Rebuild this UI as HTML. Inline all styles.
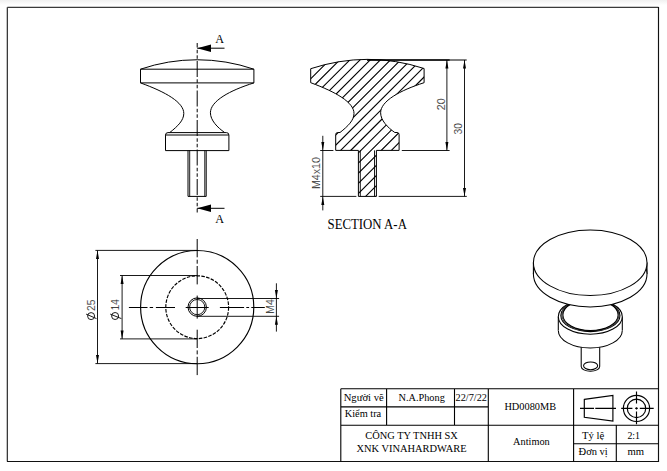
<!DOCTYPE html>
<html><head><meta charset="utf-8">
<style>
html,body{margin:0;padding:0;background:#fff;}
body{width:667px;height:471px;overflow:hidden;}
svg{display:block;}
text{font-family:"Liberation Serif",serif;fill:#000;}
.sans{font-family:"Liberation Sans",sans-serif;fill:#111;stroke:#fff;stroke-width:0.15px;}
</style></head><body>
<svg width="667" height="471" viewBox="0 0 667 471">
<defs>
<linearGradient id="topg" x1="0" y1="0" x2="0" y2="1">
<stop offset="0" stop-color="#f0f0f0"/><stop offset="1" stop-color="#fff"/>
</linearGradient>

<clipPath id="secclip"><path d="M310.70 68.7A183 183 0 0 1 424.10 68.5V82.7C399.84 90.46 380.62 101.1 380.62 112.76C380.62 120.28 387.57 127.41 394.80 132.5H397.00Q399.10 132.5 399.10 134.6V150.4H376.40V196.4H358.40V150.4H335.70V134.6Q335.70 132.5 337.80 132.5H340.00C348.02 126.17 353.99 120.37 353.99 113.44C353.99 102.41 336.22 92.13 310.70 82.7Z"/></clipPath>
</defs>
<rect x="0" y="0" width="667" height="5" fill="url(#topg)"/>
<path d="M7.35 7.35H658.5 M7.35 7.35V461.5" fill="none" stroke="#3a3a3a" stroke-width="1.3"/>
<path d="M658.5 7V462.1 M7 461.5H659.1" fill="none" stroke="#111" stroke-width="1.15"/>
<g stroke="#000" stroke-width="1.1" fill="none"><path d="M340.8 388.8H658.5 M340.8 388.8V461.5 M340.8 406.9H488.3 M340.8 425.2H658.5 M573.6 443.7H658.5 M386.6 388.8V425.2 M454.5 388.8V425.2 M488.3 388.8V461.5 M573.6 388.8V461.5 M616.3 425.2V461.5"/></g>
<g font-size="10">
<text x="343.7" y="400.5" textLength="40" lengthAdjust="spacingAndGlyphs">Người vẽ</text>
<text x="344.7" y="416.6" textLength="36.5" lengthAdjust="spacingAndGlyphs">Kiểm tra</text>
<text x="398.5" y="400.5" textLength="46.3" lengthAdjust="spacingAndGlyphs">N.A.Phong</text>
<text x="455.6" y="400.5" textLength="31.4" lengthAdjust="spacingAndGlyphs">22/7/22</text>
<text x="504.4" y="410" textLength="51.7" lengthAdjust="spacingAndGlyphs">HD0080MB</text>
<text x="365.3" y="439.2" textLength="92.6" lengthAdjust="spacingAndGlyphs">CÔNG TY TNHH SX</text>
<text x="356.4" y="452.1" textLength="110.3" lengthAdjust="spacingAndGlyphs">XNK VINAHARDWARE</text>
<text x="513.1" y="444.8" textLength="36.6" lengthAdjust="spacingAndGlyphs">Antimon</text>
<text x="581.9" y="438.8" textLength="22.3" lengthAdjust="spacingAndGlyphs">Tỷ lệ</text>
<text x="627.4" y="438.8" textLength="12.6" lengthAdjust="spacingAndGlyphs">2:1</text>
<text x="578.6" y="455" textLength="29.2" lengthAdjust="spacingAndGlyphs">Đơn vị</text>
<text x="627.4" y="455" textLength="16.6" lengthAdjust="spacingAndGlyphs">mm</text>
</g>
<g stroke="#000" stroke-width="1.15" fill="none">
<path d="M584.3 399.4L612.9 395.4V421.1L584.3 417.2Z"/>
<path d="M580 408.4H594 M595.3 408.4H616"/>
<circle cx="636.5" cy="408.4" r="13.1"/>
<circle cx="636.5" cy="408.4" r="9.2"/>
<path d="M621.2 408.4H632.4 M635.2 408.4H637.8 M639.8 408.4H653.7 M636.5 391.4V403.5 M636.5 407.2V409.6 M636.5 411.4V424.2"/>
</g>
<g stroke="#000" stroke-width="1" fill="none">
<path d="M140.5 69.2A175 175 0 0 1 253.9 69.2"/>
<path d="M140.5 69.2H253.9V82.9H140.5Z"/>
<path d="M140.5 82.9C166.02 92.13 183.79 102.41 183.79 113.44C183.79 120.37 177.82 126.17 169.8 132.5"/>
<path d="M253.9 82.9C229.64 90.46 210.42 101.1 210.42 112.76C210.42 120.28 217.37 127.41 224.6 132.5"/>
<path d="M168 132.6H226.4Q228.9 132.6 228.9 135.1V150.6H165.5V135.1Q165.5 132.6 168 132.6Z"/>
<path d="M165.5 135H228.9" stroke-width="1"/>
<path d="M188 150.6V196.4H206.2V150.6"/>
<path d="M189.7 150.4V196.4 M204.8 150.4V196.4" stroke-width="0.9"/>
<path d="M197.2 43V212.5" stroke-dasharray="16 2.3 3.5 2 3.5 2.2" stroke-dashoffset="11.5"/>
<path d="M197.2 48.2H224.5 M197.2 208.3H224.5"/>
</g>
<path d="M197.2 48.2L211 44.5V52Z M197.2 208.3L211 204.6V212Z" fill="#000"/>
<text transform="translate(215.3 42.8) scale(1.32)" font-size="10" textLength="6.65" lengthAdjust="spacingAndGlyphs">A</text>
<text transform="translate(215.3 222.8) scale(1.32)" font-size="10" textLength="6.65" lengthAdjust="spacingAndGlyphs">A</text>
<g clip-path="url(#secclip)" stroke="#000" stroke-width="1.1">
<path d="M169.50 220L349.50 40M179.65 220L359.65 40M189.80 220L369.80 40M199.95 220L379.95 40M210.10 220L390.10 40M220.25 220L400.25 40M230.40 220L410.40 40M240.55 220L420.55 40M250.70 220L430.70 40M260.85 220L440.85 40M271.00 220L451.00 40M281.15 220L461.15 40M291.30 220L471.30 40M301.45 220L481.45 40M311.60 220L491.60 40M321.75 220L501.75 40M331.90 220L511.90 40M342.05 220L522.05 40M352.20 220L532.20 40M362.35 220L542.35 40M372.50 220L552.50 40M382.65 220L562.65 40M392.80 220L572.80 40M402.95 220L582.95 40M413.10 220L593.10 40M423.25 220L603.25 40M433.40 220L613.40 40M443.55 220L623.55 40M453.70 220L633.70 40M463.85 220L643.85 40M474.00 220L654.00 40M484.15 220L664.15 40M494.30 220L674.30 40M504.45 220L684.45 40M514.60 220L694.60 40M524.75 220L704.75 40M534.90 220L714.90 40M545.05 220L725.05 40M555.20 220L735.20 40M565.35 220L745.35 40M575.50 220L755.50 40M585.65 220L765.65 40"/>
</g>
<path d="M310.70 68.7A183 183 0 0 1 424.10 68.5V82.7C399.84 90.46 380.62 101.1 380.62 112.76C380.62 120.28 387.57 127.41 394.80 132.5H397.00Q399.10 132.5 399.10 134.6V150.4H376.40V196.4H358.40V150.4H335.70V134.6Q335.70 132.5 337.80 132.5H340.00C348.02 126.17 353.99 120.37 353.99 113.44C353.99 102.41 336.22 92.13 310.70 82.7Z" fill="none" stroke="#000" stroke-width="1"/>
<path d="M360.3 150.4V196.4 M374.5 150.4V196.4" stroke="#000" stroke-width="0.9"/>
<g stroke="#000" stroke-width="0.9" fill="none">
<path d="M367 60H466.7 M367 60H449.6" stroke-width="1"/>
<path d="M367 60H449.6" stroke-width="0.7"/>
<path d="M401.8 150.5H449.6 M378.7 196.4H466.8 M320.2 150.5H333.4 M320.2 196.4H356.4"/>
<path d="M446.9 60V150.5 M464.5 60V196.4 M322.8 135.8V210.4"/>
</g>
<g fill="#000">
<path d="M446.9 60L445.4 68.5L448.4 68.5Z M446.9 150.5L445.4 142L448.4 142Z"/>
<path d="M464.5 60L463 68.5L466 68.5Z M464.5 196.4L463 187.9L466 187.9Z"/>
<path d="M322.8 150.5L321.3 142L324.3 142Z M322.8 196.4L321.3 204.9L324.3 204.9Z"/>
</g>
<g font-size="10">
<text class="sans" transform="translate(444.5 110.2) rotate(-90)" font-size="10.5" textLength="11.9" lengthAdjust="spacingAndGlyphs">20</text>
<text class="sans" transform="translate(462.2 134.5) rotate(-90)" font-size="10.5" textLength="11.4" lengthAdjust="spacingAndGlyphs">30</text>
<text class="sans" transform="translate(320.1 189.1) rotate(-90)" font-size="10.5" textLength="32" lengthAdjust="spacingAndGlyphs">M4x10</text>
</g>
<text x="327.5" y="229" font-size="13.6" textLength="79.4" lengthAdjust="spacingAndGlyphs">SECTION A-A</text>

<g stroke="#000" stroke-width="1" fill="none">
<circle cx="197.2" cy="307.1" r="56.6" stroke-width="1.15"/>
<circle cx="197.2" cy="307.2" r="31.4" stroke-width="1.15" stroke-dasharray="3.6 1.3"/>
<circle cx="197.2" cy="307.1" r="9.2"/>
<circle cx="197.2" cy="307.1" r="7.6" stroke-width="0.9"/>
<path d="M185.7 307.5H208.7 M197.2 295.6V318.6"/>
<path d="M175 307.5H155.9 M153.1 307.5H149.7 M147.5 307.5H128.9 M219.9 307.5H244.1 M246.3 307.5H249.1 M251.3 307.5H264.8"/>
<path d="M197.2 284.4V266 M197.2 263.7V259.7 M197.2 257.3V239 M197.2 329.7V348 M197.2 350.4V354.4 M197.2 356.8V375.1"/>
</g>
<g stroke="#000" stroke-width="0.9" fill="none">
<path d="M95.4 250.4H197 M95.4 363.6H197 M120 275.5H197 M120 338.9H197 M197 298.5H279.1 M197 316.3H279.1"/>
<path d="M97.5 250.4V363.6 M122.1 275.5V338.9 M276.4 283.3V331.6"/>
</g>
<g fill="#000">
<path d="M97.5 250.4L96 258.9H99Z M97.5 363.6L96 355.1H99Z"/>
<path d="M122.1 275.5L120.6 284H123.6Z M122.1 338.9L120.6 330.4H123.6Z"/>
<path d="M276.4 298.5L274.9 290H277.9Z M276.4 316.3L274.9 324.8H277.9Z"/>
</g>
<g font-size="10">
<text class="sans" transform="translate(95 310.9) rotate(-90)" font-size="10.5" textLength="11.5" lengthAdjust="spacingAndGlyphs">25</text>
<text class="sans" transform="translate(119.2 310.2) rotate(-90)" font-size="10.5" textLength="10.9" lengthAdjust="spacingAndGlyphs">14</text>
<text class="sans" transform="translate(274.1 314) rotate(-90)" font-size="10.5" textLength="14.9" lengthAdjust="spacingAndGlyphs">M4</text>
</g>
<g stroke="#000" stroke-width="0.9" fill="none">
<circle cx="91.1" cy="316.1" r="3.5"/><path d="M86.1 314.1L96.5 318.6"/>
<circle cx="115.1" cy="316" r="3.5"/><path d="M110.2 314.1L121.4 318.6"/>
</g>

<g stroke="#000" stroke-width="1.05" fill="none">
<path d="M581.2 346V366.6A9.25 4.6 0 0 0 599.7 366.6V346"/>
<ellipse cx="590.6" cy="365.8" rx="7.05" ry="3.9"/>
<path d="M558.3 316.7V330.5 M622.3 316.7V330.5"/>
<path d="M558.3 330.5A32 17.5 0 0 0 622.3 330.5" fill="#fff"/>
<ellipse cx="590.3" cy="316.7" rx="32" ry="17.5" fill="#fff"/>
<ellipse cx="590.4" cy="315.5" rx="29.6" ry="16.1"/>
<ellipse cx="590.45" cy="315.2" rx="28.6" ry="15.7" stroke-width="0.8"/>
<ellipse cx="590.5" cy="315" rx="27.6" ry="15.5"/>
<path d="M533.4 262.5V274 M647 262.5V274"/>
<ellipse cx="590.2" cy="274.1" rx="56.8" ry="32.8" fill="#fff"/>
<ellipse cx="590.2" cy="262.7" rx="56.8" ry="32.8" fill="#fff"/>
</g>
</svg></body></html>
